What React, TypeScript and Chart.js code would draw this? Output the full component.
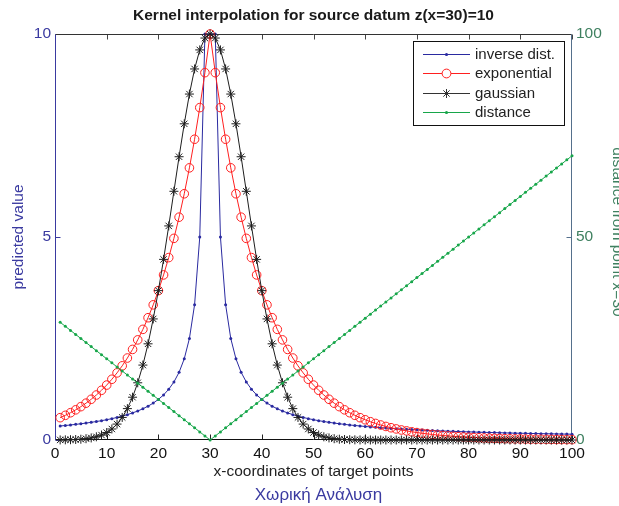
import { useEffect, useRef } from "react";
import { Chart, registerables } from "chart.js";

Chart.register(...registerables);

// ---------- data ----------
const xValues = [
  1, 2, 3, 4, 5, 6, 7, 8, 9, 10, 11, 12, 13, 14, 15, 16, 17, 18, 19, 20,
  21, 22, 23, 24, 25, 26, 27, 28, 29, 30, 31, 32, 33, 34, 35, 36, 37, 38, 39, 40,
  41, 42, 43, 44, 45, 46, 47, 48, 49, 50, 51, 52, 53, 54, 55, 56, 57, 58, 59, 60,
  61, 62, 63, 64, 65, 66, 67, 68, 69, 70, 71, 72, 73, 74, 75, 76, 77, 78, 79, 80,
  81, 82, 83, 84, 85, 86, 87, 88, 89, 90, 91, 92, 93, 94, 95, 96, 97, 98, 99, 100,
];

const inverseDist = [
  0.345, 0.357, 0.37, 0.385, 0.4, 0.417, 0.435, 0.455, 0.476, 0.5,
  0.526, 0.556, 0.588, 0.625, 0.667, 0.714, 0.769, 0.833, 0.909, 1.0,
  1.111, 1.25, 1.429, 1.667, 2.0, 2.5, 3.333, 5.0, 10.0, 10.0,
  10.0, 5.0, 3.333, 2.5, 2.0, 1.667, 1.429, 1.25, 1.111, 1.0,
  0.909, 0.833, 0.769, 0.714, 0.667, 0.625, 0.588, 0.556, 0.526, 0.5,
  0.476, 0.455, 0.435, 0.417, 0.4, 0.385, 0.37, 0.357, 0.345, 0.333,
  0.323, 0.313, 0.303, 0.294, 0.286, 0.278, 0.27, 0.263, 0.256, 0.25,
  0.244, 0.238, 0.233, 0.227, 0.222, 0.217, 0.213, 0.208, 0.204, 0.2,
  0.196, 0.192, 0.189, 0.185, 0.182, 0.179, 0.175, 0.172, 0.169, 0.167,
  0.164, 0.161, 0.159, 0.156, 0.154, 0.152, 0.149, 0.147, 0.145, 0.143,
];

const exponential = [
  0.55, 0.608, 0.672, 0.743, 0.821, 0.907, 1.003, 1.108, 1.225, 1.353,
  1.496, 1.653, 1.827, 2.019, 2.231, 2.466, 2.725, 3.012, 3.329, 3.679,
  4.066, 4.493, 4.966, 5.488, 6.065, 6.703, 7.408, 8.187, 9.048, 10.0,
  9.048, 8.187, 7.408, 6.703, 6.065, 5.488, 4.966, 4.493, 4.066, 3.679,
  3.329, 3.012, 2.725, 2.466, 2.231, 2.019, 1.827, 1.653, 1.496, 1.353,
  1.225, 1.108, 1.003, 0.907, 0.821, 0.743, 0.672, 0.608, 0.55, 0.498,
  0.45, 0.408, 0.369, 0.334, 0.302, 0.273, 0.247, 0.224, 0.202, 0.183,
  0.166, 0.15, 0.136, 0.123, 0.111, 0.101, 0.091, 0.082, 0.074, 0.067,
  0.061, 0.055, 0.05, 0.045, 0.041, 0.037, 0.033, 0.03, 0.027, 0.025,
  0.022, 0.02, 0.018, 0.017, 0.015, 0.014, 0.012, 0.011, 0.01, 0.009,
];

const gaussian = [
  0.002, 0.004, 0.007, 0.012, 0.019, 0.032, 0.051, 0.079, 0.122, 0.183,
  0.271, 0.392, 0.556, 0.773, 1.054, 1.409, 1.845, 2.369, 2.982, 3.679,
  4.449, 5.273, 6.126, 6.977, 7.788, 8.521, 9.139, 9.608, 9.9, 10.0,
  9.9, 9.608, 9.139, 8.521, 7.788, 6.977, 6.126, 5.273, 4.449, 3.679,
  2.982, 2.369, 1.845, 1.409, 1.054, 0.773, 0.556, 0.392, 0.271, 0.183,
  0.122, 0.079, 0.051, 0.032, 0.019, 0.012, 0.007, 0.004, 0.002, 0.001,
  0.001, 0, 0, 0, 0, 0, 0, 0, 0, 0,
  0, 0, 0, 0, 0, 0, 0, 0, 0, 0,
  0, 0, 0, 0, 0, 0, 0, 0, 0, 0,
  0, 0, 0, 0, 0, 0, 0, 0, 0, 0,
];

const distance = [
  29, 28, 27, 26, 25, 24, 23, 22, 21, 20,
  19, 18, 17, 16, 15, 14, 13, 12, 11, 10,
  9, 8, 7, 6, 5, 4, 3, 2, 1, 0,
  1, 2, 3, 4, 5, 6, 7, 8, 9, 10,
  11, 12, 13, 14, 15, 16, 17, 18, 19, 20,
  21, 22, 23, 24, 25, 26, 27, 28, 29, 30,
  31, 32, 33, 34, 35, 36, 37, 38, 39, 40,
  41, 42, 43, 44, 45, 46, 47, 48, 49, 50,
  51, 52, 53, 54, 55, 56, 57, 58, 59, 60,
  61, 62, 63, 64, 65, 66, 67, 68, 69, 70,
];

const xTicks = [0, 10, 20, 30, 40, 50, 60, 70, 80, 90, 100];
const yTicks = [0, 5, 10];
const y2Ticks = [0, 50, 100];
const seriesNames = ["inverse dist.", "exponential", "gaussian", "distance"];
const titleText = "Kernel interpolation for source datum z(x=30)=10";
const xTitle = "x-coordinates of target points";
const xSubTitle = "Χωρική Ανάλυση";
const yTitle = "predicted value";
const y2Title = "distance from point x=30";

// ---------- styles ----------
const FONT = "'Liberation Sans', Arial, Helvetica, sans-serif";
const BLUE = "#2a2aa0";
const RED = "#ff1f1f";
const BLACK = "#1e1e1e";
const GREEN = "#17a64a";
const LEFT_AXIS = "#3a3aa0";
const RIGHT_AXIS = "#3f8060";
const RIGHT_LINE = "#55708c";

const pts = (ys: number[]) => xValues.map((x, i) => ({ x, y: ys[i] }));

function drawMarker(ctx: CanvasRenderingContext2D, kind: string, x: number, y: number, color: string) {
  ctx.save();
  ctx.strokeStyle = color;
  ctx.fillStyle = color;
  ctx.lineWidth = 1;
  if (kind === "dot") {
    ctx.beginPath();
    ctx.arc(x, y, 1.6, 0, Math.PI * 2);
    ctx.fill();
  } else if (kind === "ring") {
    ctx.beginPath();
    ctx.arc(x, y, 4.4, 0, Math.PI * 2);
    ctx.fillStyle = "#fff";
    ctx.fill();
    ctx.stroke();
  } else if (kind === "star") {
    const r = 4.5;
    const d = r * Math.SQRT1_2;
    ctx.beginPath();
    ctx.moveTo(x - r, y); ctx.lineTo(x + r, y);
    ctx.moveTo(x, y - r); ctx.lineTo(x, y + r);
    ctx.moveTo(x - d, y - d); ctx.lineTo(x + d, y + d);
    ctx.moveTo(x - d, y + d); ctx.lineTo(x + d, y - d);
    ctx.stroke();
  }
  ctx.restore();
}

const decorPlugin = {
  id: "decor",
  beforeDatasetsDraw(chart: any) {
    const { ctx, chartArea: a, scales } = chart;
    ctx.save();
    ctx.lineWidth = 1;
    const L = Math.round(a.left) + 0.5;
    const R = Math.round(a.right) - 0.5;
    const T = Math.round(a.top) + 0.5;
    const B = Math.round(a.bottom) - 0.5;
    const seg = (x1: number, y1: number, x2: number, y2: number, c: string) => {
      ctx.strokeStyle = c;
      ctx.beginPath();
      ctx.moveTo(x1, y1);
      ctx.lineTo(x2, y2);
      ctx.stroke();
    };
    // inward tick marks
    xTicks.forEach((v) => {
      const px = Math.round(scales.x.getPixelForValue(v)) + 0.5;
      seg(px, B, px, B - 5, "#222");
      seg(px, T, px, T + 5, "#444");
    });
    yTicks.forEach((v) => {
      const py = Math.round(scales.y.getPixelForValue(v)) + 0.5;
      seg(L, py, L + 5, py, LEFT_AXIS);
    });
    y2Ticks.forEach((v) => {
      const py = Math.round(scales.y2.getPixelForValue(v)) + 0.5;
      seg(R, py, R - 5, py, RIGHT_LINE);
    });
    // frame
    seg(L, T, R, T, "#333");
    seg(L, B, R, B, "#111");
    seg(L, T, L, B, LEFT_AXIS);
    seg(R, T, R, B, RIGHT_LINE);
    ctx.restore();
  },
  afterDraw(chart: any) {
    const { ctx, chartArea: a } = chart;
    const cx = (a.left + a.right) / 2;
    ctx.save();
    ctx.textAlign = "center";
    ctx.textBaseline = "middle";
    // title
    ctx.fillStyle = "#1a1a1a";
    ctx.font = `bold 15.5px ${FONT}`;
    ctx.fillText(titleText, cx, 16);
    // x titles
    ctx.fillStyle = "#222";
    ctx.font = `15.5px ${FONT}`;
    ctx.fillText(xTitle, cx, 472);
    ctx.fillStyle = LEFT_AXIS;
    ctx.font = `17px ${FONT}`;
    ctx.fillText(xSubTitle, cx + 5, 495);
    // left y title
    ctx.save();
    ctx.translate(19, (a.top + a.bottom) / 2);
    ctx.rotate(-Math.PI / 2);
    ctx.fillStyle = LEFT_AXIS;
    ctx.font = `15.5px ${FONT}`;
    ctx.fillText(yTitle, 0, 0);
    ctx.restore();
    // right y title
    ctx.save();
    ctx.translate(617, 232);
    ctx.rotate(Math.PI / 2);
    ctx.fillStyle = RIGHT_AXIS;
    ctx.font = `15.5px ${FONT}`;
    ctx.fillText(y2Title, 0, 0);
    ctx.restore();

    // legend
    const bx = 413.5, by = 41.5, bw = 151, bh = 84;
    ctx.fillStyle = "#fff";
    ctx.fillRect(bx, by, bw, bh);
    ctx.strokeStyle = "#111";
    ctx.lineWidth = 1;
    ctx.strokeRect(bx, by, bw, bh);
    const rows = [54, 73, 92.5, 112];
    const colors = [BLUE, RED, "#333", GREEN];
    const markers = ["dot", "ring", "star", "dot"];
    ctx.textAlign = "left";
    ctx.font = `15px ${FONT}`;
    seriesNames.forEach((name, i) => {
      const y = rows[i];
      ctx.strokeStyle = colors[i];
      ctx.lineWidth = 1;
      ctx.beginPath();
      ctx.moveTo(423, Math.round(y) + 0.5);
      ctx.lineTo(470, Math.round(y) + 0.5);
      ctx.stroke();
      drawMarker(ctx, markers[i], 446.5, Math.round(y) + 0.5, colors[i]);
      ctx.fillStyle = "#222";
      ctx.fillText(name, 475, y + 1);
    });
    ctx.restore();
  },
};

export default function App() {
  const ref = useRef<HTMLCanvasElement>(null);

  useEffect(() => {
    if (!ref.current) return;
    Chart.defaults.font.family = FONT;
    const chart = new Chart(ref.current, {
      type: "line",
      data: {
        datasets: [
          {
            label: seriesNames[0],
            data: pts(inverseDist),
            borderColor: BLUE,
            backgroundColor: BLUE,
            borderWidth: 1,
            pointStyle: "circle",
            pointRadius: 1.5,
            pointBorderWidth: 0,
            yAxisID: "y",
            clip: false,
            order: 3,
          },
          {
            label: seriesNames[1],
            data: pts(exponential),
            borderColor: RED,
            backgroundColor: "rgba(0,0,0,0)",
            pointBorderColor: RED,
            borderWidth: 1,
            pointStyle: "circle",
            pointRadius: 4.3,
            pointBorderWidth: 1,
            yAxisID: "y",
            clip: false,
            order: 2,
          },
          {
            label: seriesNames[2],
            data: pts(gaussian),
            borderColor: BLACK,
            backgroundColor: BLACK,
            borderWidth: 1,
            pointStyle: "star",
            pointRadius: 4.5,
            pointBorderWidth: 1,
            yAxisID: "y",
            clip: false,
            order: 1,
          },
          {
            label: seriesNames[3],
            data: pts(distance),
            borderColor: GREEN,
            backgroundColor: GREEN,
            borderWidth: 1,
            pointStyle: "circle",
            pointRadius: 1.5,
            pointBorderWidth: 0,
            yAxisID: "y2",
            clip: false,
            order: 0,
          },
        ],
      },
      options: {
        animation: false,
        responsive: true,
        maintainAspectRatio: false,
        events: [],
        layout: { padding: { top: 34, left: 0, right: 0, bottom: 0 } },
        plugins: {
          legend: { display: false },
          title: { display: false },
          tooltip: { enabled: false },
        },
        scales: {
          x: {
            type: "linear",
            position: "bottom",
            min: 0,
            max: 100,
            grid: { display: false, drawTicks: false },
            border: { display: false },
            afterBuildTicks: (s: any) => {
              s.ticks = xTicks.map((v) => ({ value: v }));
            },
            afterFit: (s: any) => {
              s.height = 66;
            },
            ticks: {
              color: "#111",
              font: { size: 15.5, family: FONT },
              padding: 4,
              maxRotation: 0,
              autoSkip: false,
            },
          },
          y: {
            type: "linear",
            position: "left",
            min: 0,
            max: 10,
            grid: { display: false, drawTicks: false },
            border: { display: false },
            afterBuildTicks: (s: any) => {
              s.ticks = yTicks.map((v) => ({ value: v }));
            },
            afterFit: (s: any) => {
              s.width = 55;
            },
            ticks: {
              color: LEFT_AXIS,
              font: { size: 15.5, family: FONT },
              padding: 4,
            },
          },
          y2: {
            type: "linear",
            position: "right",
            min: 0,
            max: 100,
            grid: { display: false, drawTicks: false },
            border: { display: false },
            afterBuildTicks: (s: any) => {
              s.ticks = y2Ticks.map((v) => ({ value: v }));
            },
            afterFit: (s: any) => {
              s.width = 47;
            },
            ticks: {
              color: RIGHT_AXIS,
              font: { size: 15.5, family: FONT },
              padding: 4,
            },
          },
        },
      },
      plugins: [decorPlugin],
    });
    return () => chart.destroy();
  }, []);

  return (
    <div style={{ position: "fixed", left: 0, top: 0, width: 619, height: 506, background: "#fff" }}>
      <canvas ref={ref} />
    </div>
  );
}
